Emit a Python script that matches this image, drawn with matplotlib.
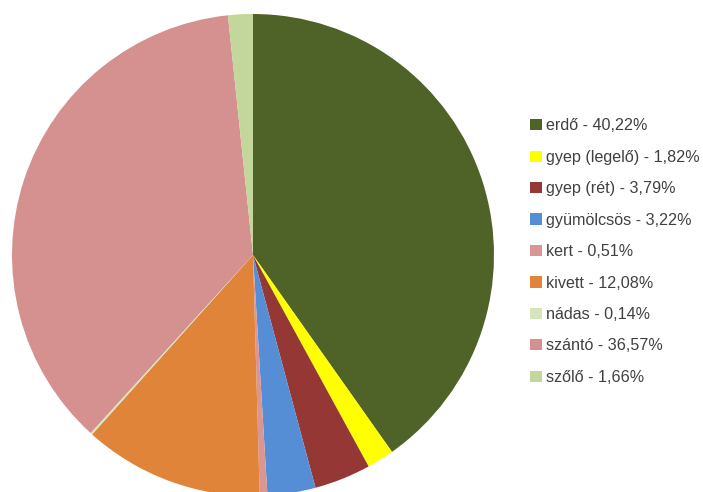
import matplotlib.pyplot as plt
from matplotlib.patches import Patch

labels = ["erdő", "gyep (legelő)", "gyep (rét)", "gyümölcsös", "kert",
          "kivett", "nádas", "szántó", "szőlő"]
values = [40.22, 1.82, 3.79, 3.22, 0.51, 12.08, 0.14, 36.57, 1.66]
colors = ["#4F6228", "#FFFF00", "#953735", "#558ED5", "#D99694",
          "#E0843A", "#D7E4BD", "#D4918F", "#C3D69B"]

plt.rcParams['font.family'] = ['Liberation Sans', 'DejaVu Sans']

fig = plt.figure(figsize=(7.03, 4.92), dpi=100)
W, H = 703, 492
cx, cy, r = 253, 255, 241
ax = fig.add_axes([(cx - r) / W, (H - cy - r) / H, 2 * r / W, 2 * r / H])
wedges, _ = ax.pie(values, colors=colors, startangle=90, counterclock=False,
                   radius=1, wedgeprops=dict(linewidth=0))
ax.set_xlim(-1, 1)
ax.set_ylim(-1, 1)
ax.set_aspect('equal')
ax.axis('off')

handles = [Patch(facecolor=c, edgecolor='none') for c in colors]
leg_labels = [f"{l} - {v:.2f}".replace('.', ',') + "%" for l, v in zip(labels, values)]
leg = fig.legend(handles, leg_labels, loc='upper left',
                 bbox_to_anchor=(524 / W, 1 - 112 / H), frameon=False,
                 fontsize=11.6, handlelength=0.7, handleheight=0.7,
                 handletextpad=0.25, labelspacing=1.02, borderaxespad=0)
for t in leg.get_texts():
    t.set_color("#404040")

fig.savefig("out.png", dpi=100)
